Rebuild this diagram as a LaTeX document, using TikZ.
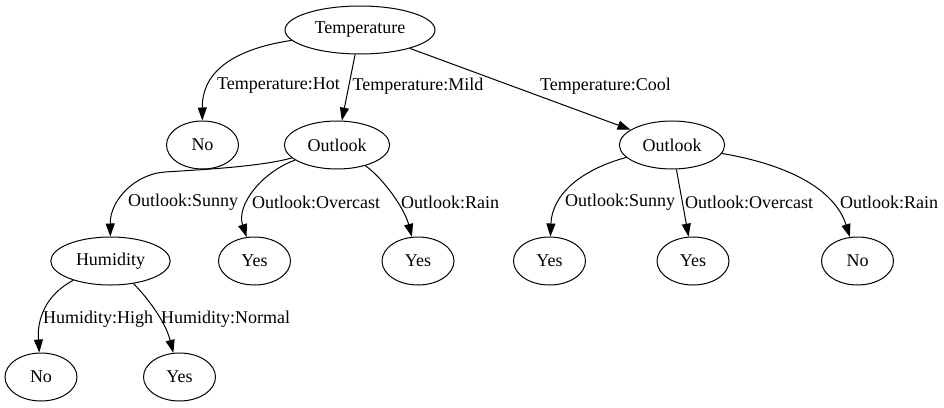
\documentclass[tikz,border=0pt]{standalone}
\usepackage{fontspec}
\setmainfont{Liberation Serif}
\usetikzlibrary{shapes.geometric,arrows.meta}
\begin{document}
\begin{tikzpicture}[x=1pt,y=-1pt,
    vertex/.style={draw,ellipse,line width=1pt,minimum width=72pt,minimum height=48pt,
      inner xsep=7.7pt,inner ysep=3pt,font=\fontsize{18}{20}\selectfont},
    edge/.style={line width=1pt,-{Triangle[length=13pt,width=9pt]}},
    lbl/.style={anchor=west,inner sep=0pt,font=\fontsize{18}{20}\selectfont}]
    \useasboundingbox (0,0) rectangle (944,407);
    \node[vertex] (temp) at (360,30) {Temperature};
    \node[vertex] (hotno) at (202.5,145) {No};
    \node[vertex] (mildout) at (337,145) {Outlook};
    \node[vertex] (coolout) at (672,145) {Outlook};
    \node[vertex] (hum) at (110.5,261) {Humidity};
    \node[vertex] (ovyes) at (254.5,261) {Yes};
    \node[vertex] (rainyes) at (418,261) {Yes};
    \node[vertex] (sunyes) at (549.5,261) {Yes};
    \node[vertex] (ovyesb) at (693,261) {Yes};
    \node[vertex] (rainno) at (857.5,261) {No};
    \node[vertex] (highno) at (41,377) {No};
    \node[vertex] (normyes) at (179.5,377) {Yes};
    \draw[edge] (temp) .. controls (228,50) and (202,75) .. (hotno);
    \draw[edge] (temp) -- (mildout);
    \draw[edge] (temp) -- (coolout);
    \draw[edge] (mildout) .. controls (260,167) and (195,170) .. (165,172) .. controls (135,174) and (110,200) .. (hum);
    \draw[edge] (mildout) .. controls (262,172) and (236,205) .. (ovyes);
    \draw[edge] (mildout) .. controls (385,180) and (405,210) .. (rainyes);
    \draw[edge] (coolout) .. controls (580,170) and (552,195) .. (sunyes);
    \draw[edge] (coolout) -- (ovyesb);
    \draw[edge] (coolout) .. controls (790,165) and (835,190) .. (rainno);
    \draw[edge] (hum) .. controls (45,295) and (37,320) .. (highno);
    \draw[edge] (hum) .. controls (145,295) and (165,320) .. (normyes);
    \node[lbl] (lhot) at (217,86) {Temperature:Hot};
    \node[lbl] (lmild) at (352.5,86) {Temperature:Mild};
    \node[lbl] (lcool) at (540,86) {Temperature:Cool};
    \node[lbl] (lsuna) at (128,202) {Outlook:Sunny};
    \node[lbl] (lova) at (252,202) {Outlook:Overcast};
    \node[lbl] (lraina) at (401,202) {Outlook:Rain};
    \node[lbl] (lsunb) at (565,202) {Outlook:Sunny};
    \node[lbl] (lovb) at (685,202) {Outlook:Overcast};
    \node[lbl] (lrainb) at (840,202) {Outlook:Rain};
    \node[lbl] (lhigh) at (43,319) {Humidity:High};
    \node[lbl] (lnorm) at (161,319) {Humidity:Normal};
\end{tikzpicture}
\end{document}
